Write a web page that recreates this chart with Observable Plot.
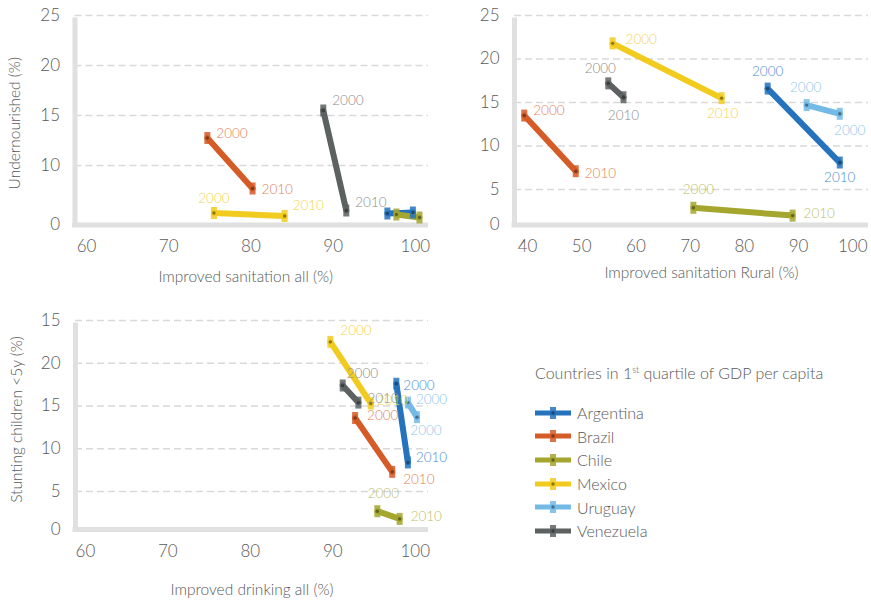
<!DOCTYPE html>
<html><head><meta charset="utf-8">
<script src="https://cdn.jsdelivr.net/npm/d3@7"></script>
<script src="https://cdn.jsdelivr.net/npm/@observablehq/plot@0.6"></script>
<style>
body{margin:0;background:#fff;font-family:"Lato Light",Lato,"Open Sans",sans-serif;}
#wrap{position:relative;width:871px;height:604px;overflow:hidden;background:#fff}
.panel{position:absolute}
#legend{position:absolute;left:535px;top:362px;color:#595959;font-weight:300;font-family:"Lato Light",Lato,sans-serif}
#legend .title{font-size:16px;line-height:22px;margin-bottom:17px;white-space:nowrap}
#legend .title sup{font-size:9px;vertical-align:6px;line-height:0}
#legend .item{display:flex;align-items:center;height:23.6px;font-size:16px}
#legend .item svg{margin-right:6px}
</style></head><body><div id="wrap"></div>
<script>
// ---- shared ----
const countries = ["Argentina","Brazil","Chile","Mexico","Uruguay","Venezuela"];
const seriesColors = ["#2673BD","#D55B27","#A5A62E","#F1CB1D","#73BAE7","#5D6161"];
const yearLabelColors = ["#4B8DD0","#E48057","#BDBE6B","#F2D44F","#8FC7EC","#8C8C8C"];
const legendTitle = "Countries in 1|st| quartile of GDP per capita";

// ---- panel 1: Improved sanitation all vs Undernourished ----
const p1Country = ["Argentina","Argentina","Brazil","Brazil","Chile","Chile","Mexico","Mexico","Venezuela","Venezuela"];
const p1Year = ["2000","2010","2000","2010","2000","2010","2000","2010","2000","2010"];
const p1X = [96.6, 99.7, 74.7, 80.2, 97.7, 100.5, 75.5, 84.1, 88.8, 91.6];
const p1Y = [5.2, 5.3, 12.75, 7.7, 5.1, 4.8, 5.25, 4.95, 15.5, 5.5];
const p1Label = ["", "", "2000", "2010", "", "", "2000", "2010", "2000", "2010"];
const p1XTicks = [60, 70, 80, 90, 100];
const p1YTicks = [4.05, 10, 15, 20, 25];
const p1YTickLabels = ["0", "10", "15", "20", "25"];
const p1XTitle = "Improved sanitation all (%)";
const p1YTitle = "Undernourished (%)";

// ---- panel 2: Improved sanitation Rural ----
const p2Country = ["Argentina","Argentina","Brazil","Brazil","Chile","Chile","Mexico","Mexico","Uruguay","Uruguay","Venezuela","Venezuela"];
const p2Year = ["2000","2010","2000","2010","2000","2010","2000","2010","2000","2010","2000","2010"];
const p2X = [84.3, 97.6, 39.4, 48.9, 70.6, 88.9, 55.7, 75.8, 91.5, 97.6, 54.9, 57.7];
const p2Y = [16.6, 8.1, 13.5, 7.1, 2.9, 2.0, 21.8, 15.5, 14.7, 13.7, 17.2, 15.6];
const p2Label = ["2000","2010","2000","2010","2000","2010","2000","2010","2000","2000","2000","2010"];
const p2XTicks = [40, 50, 60, 70, 80, 90, 100];
const p2YTicks = [0.92, 5, 10, 15, 20, 25];
const p2YTickLabels = ["0", "5", "10", "15", "20", "25"];
const p2XTitle = "Improved sanitation Rural (%)";

// ---- panel 3: Improved drinking all vs Stunting ----
const p3Country = ["Argentina","Argentina","Brazil","Brazil","Chile","Chile","Mexico","Mexico","Uruguay","Uruguay","Venezuela","Venezuela"];
const p3Year = ["2000","2010","2000","2010","2000","2010","2000","2010","2000","2010","2000","2010"];
const p3X = [97.7, 99.1, 92.7, 97.2, 95.4, 98.1, 89.7, 94.6, 99.1, 100.2, 91.2, 93.1];
const p3Y = [17.6, 8.4, 13.6, 7.3, 2.7, 1.8, 22.5, 15.3, 15.4, 13.7, 17.4, 15.4];
const p3Label = ["2000","2010","2000","2010","2000","2010","2000","2010","2000","2000","2000","2010"];
const p3XTicks = [60, 70, 80, 90, 100];
const p3YTicks = [0.56, 5, 10, 15, 20, 25];
const p3YTickLabels = ["0", "5", "10", "15", "20", "15"];
const p3XTitle = "Improved drinking all (%)";
const p3YTitle = "Stunting children <5y (%)";

// ---- label placement (style only): [dx, dy, anchor] ----
const p1Place = [null,null,[9,-4,"start"],[9,1,"start"],null,null,[0,-14,"middle"],[8,-10,"start"],[9,-10,"start"],[9,-8,"start"]];
const p2Place = [[0,-17,"middle"],[0,15,"middle"],[9,-5,"start"],[9,2,"start"],[5,-18,"middle"],[11,-2,"start"],[13,-4,"start"],[1,16,"middle"],[-1,-17,"middle"],[10,17,"middle"],[-8,-15,"middle"],[0,18,"middle"]];
const p3Place = [[7,2,"start"],[8,-5,"start"],[12,-2,"start"],[11,8,"start"],[6,-18,"middle"],[11,-2,"start"],[10,-11,"start"],[6,-3,"start"],[8,-3,"start"],[9,14,"middle"],[4,-12,"start"],[9,-4,"start"]];

const barSymbol = {draw(ctx){ ctx.rect(-3, -6, 6, 12); }};
const GRAY = "#595959";
const FONT = "'Lato Light', Lato, 'Open Sans', sans-serif";

function makePanel(cfg){
  const data = cfg.country.map((c,i)=>({country:c, year:cfg.year[i], x:cfg.x[i], y:cfg.y[i], label:cfg.label[i]}));
  const [xmin,xmax] = cfg.xDomain, [ymin,ymax] = cfg.yDomain;
  const tickLabel = new Map(cfg.yTicks.map((t,i)=>[t, cfg.yTickLabels[i]]));
  const labelMarks = [];
  data.forEach((d,i)=>{
    const p = cfg.place[i];
    if (!d.label || !p) return;
    labelMarks.push(Plot.text([d], {x:"x", y:"y", text:"label", dx:p[0], dy:p[1], textAnchor:p[2],
      fill: yearLabelColors[countries.indexOf(d.country)], fontSize:13.5, fontWeight:300}));
  });
  const marks = [
    Plot.ruleY(cfg.yTicks.slice(1), {stroke:"#d9d9d9", strokeWidth:1.4, strokeDasharray:"7,4"}),
    Plot.ruleY([ymin], {stroke:"#e0e0e0", strokeWidth:5, insetLeft:-2.5}),
    Plot.ruleX([xmin], {y1:ymin, y2:ymax, stroke:"#e0e0e0", strokeWidth:5, insetBottom:-2.5}),
    Plot.axisX(cfg.xTicks, {tickSize:0, tickPadding:15, label:null, fontSize:17}),
    Plot.axisY(cfg.yTicks, {tickSize:0, tickPadding:15, label:null, fontSize:17, tickFormat:d=>tickLabel.get(d)}),
    Plot.text([cfg.xTitle], {frameAnchor:"bottom", lineAnchor:"middle", textAnchor:"middle", dx:cfg.xTitleDx, dy:cfg.xTitleDy, fontSize:15.5, fill:GRAY})
  ];
  if (cfg.yTitle) marks.push(Plot.text([cfg.yTitle], {frameAnchor:"left", rotate:-90, lineAnchor:"middle", textAnchor:"middle", dx:cfg.yTitleDx, dy:cfg.yTitleDy||0, fontSize:15.5, fill:GRAY}));
  marks.push(
    Plot.line(data, {x:"x", y:"y", z:"country", stroke:"country", strokeWidth:6}),
    Plot.dot(data, {x:"x", y:"y", fill:"country", symbol:barSymbol, r:4, fillOpacity:0.85, stroke:"none"}),
    Plot.dot(data, {x:"x", y:"y", r:1.7, fill:"#111", fillOpacity:0.45, stroke:"none"}),
    ...labelMarks
  );
  const svg = Plot.plot({
    width:cfg.width, height:cfg.height,
    marginLeft:cfg.ml, marginRight:cfg.mr, marginTop:cfg.mt, marginBottom:cfg.mb,
    x:{domain:cfg.xDomain},
    y:{domain:cfg.yDomain},
    color:{domain:countries, range:seriesColors},
    style:{color:GRAY, fontFamily:FONT, fontWeight:300, fontSize:"17px", background:"transparent", overflow:"visible"},
    marks
  });
  svg.classList.add("panel");
  svg.style.left = cfg.left + "px";
  svg.style.top = cfg.top + "px";
  svg.style.position = "absolute";
  return svg;
}

const wrap = document.getElementById("wrap");
wrap.appendChild(makePanel({
  country:p1Country, year:p1Year, x:p1X, y:p1Y, label:p1Label, place:p1Place,
  xTicks:p1XTicks, yTicks:p1YTicks, yTickLabels:p1YTickLabels, xTitle:p1XTitle, yTitle:p1YTitle,
  xDomain:[58.6,101.6], yDomain:[4.05,25],
  width:440, height:290, ml:74.5, mr:12, mt:15, mb:65.5, left:0, top:0,
  xTitleDx:-6, xTitleDy:52.5, yTitleDx:-59.5, yTitleDy:3
}));
wrap.appendChild(makePanel({
  country:p2Country, year:p2Year, x:p2X, y:p2Y, label:p2Label, place:p2Place,
  xTicks:p2XTicks, yTicks:p2YTicks, yTickLabels:p2YTickLabels, xTitle:p2XTitle, yTitle:null,
  xDomain:[37.6,102.9], yDomain:[0.92,25],
  width:431, height:290, ml:74, mr:3, mt:15, mb:65.5, left:440, top:0,
  xTitleDx:10, xTitleDy:48.5
}));
wrap.appendChild(makePanel({
  country:p3Country, year:p3Year, x:p3X, y:p3Y, label:p3Label, place:p3Place,
  xTicks:p3XTicks, yTicks:p3YTicks, yTickLabels:p3YTickLabels, xTitle:p3XTitle, yTitle:p3YTitle,
  xDomain:[58.8,101.6], yDomain:[0.56,25],
  width:460, height:304, ml:75, mr:32, mt:20, mb:75, left:0, top:300,
  xTitleDx:0, xTitleDy:61, yTitleDx:-58, yTitleDy:-5.5
}));

// ---- legend ----
const legend = document.createElement("div");
legend.id = "legend";
const tparts = legendTitle.split("|");
const title = document.createElement("div");
title.className = "title";
title.append(tparts[0]);
const sup = document.createElement("sup"); sup.textContent = tparts[1]; title.append(sup);
title.append(tparts[2]);
legend.appendChild(title);
countries.forEach((c,i)=>{
  const item = document.createElement("div");
  item.className = "item";
  const s = d3.create("svg").attr("width",36).attr("height",12);
  s.append("line").attr("x1",0).attr("x2",36).attr("y1",6).attr("y2",6).attr("stroke",seriesColors[i]).attr("stroke-width",5);
  s.append("rect").attr("x",15).attr("y",0).attr("width",6).attr("height",12).attr("fill",seriesColors[i]).attr("fill-opacity",0.85);
  s.append("circle").attr("cx",18).attr("cy",6).attr("r",1.7).attr("fill","#111").attr("fill-opacity",0.45);
  item.appendChild(s.node());
  item.append(c);
  legend.appendChild(item);
});
wrap.appendChild(legend);
</script>
</body></html>
